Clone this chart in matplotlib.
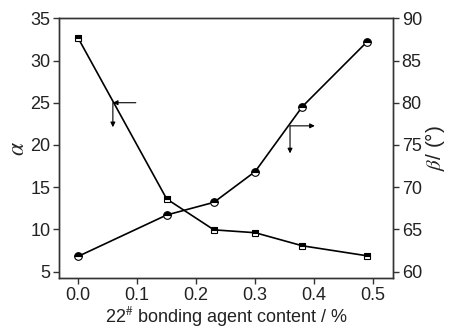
import matplotlib
matplotlib.use("Agg")
import matplotlib.pyplot as plt
from matplotlib import font_manager

x = [0.0, 0.15, 0.23, 0.30, 0.38, 0.49]
alpha = [32.65, 13.6, 9.94, 9.6, 8.05, 6.86]
beta = [61.8, 66.7, 68.2, 71.85, 79.55, 87.25]
xticks = [0.0, 0.1, 0.2, 0.3, 0.4, 0.5]
yticks_left = [5, 10, 15, 20, 25, 30, 35]
yticks_right = [60, 65, 70, 75, 80, 85, 90]

names = {f.name for f in font_manager.fontManager.ttflist}
fam = "Liberation Sans Narrow" if "Liberation Sans Narrow" in names else "Liberation Sans"
plt.rcParams['font.family'] = [fam, 'DejaVu Sans']
plt.rcParams['mathtext.fontset'] = 'stix'

fig = plt.figure(figsize=(4.54, 3.29), dpi=100)
ax = fig.add_axes([58.7/454, 1 - 278.3/329, (393.3-58.7)/454, (278.3-18.3)/329])
ax2 = ax.twinx()

spc = '#333333'
ax.plot(x, alpha, '-', color='black', lw=1.2, marker='s', ms=5,
        fillstyle='top', markerfacecolor='black', markerfacecoloralt='white',
        markeredgecolor='black', markeredgewidth=0.8, zorder=3)
ax2.plot(x, beta, '-', color='black', lw=1.2, marker='o', ms=5.5,
         fillstyle='top', markerfacecolor='black', markerfacecoloralt='white',
         markeredgecolor='black', markeredgewidth=0.8, zorder=3)

ax.set_xlim(-0.033, 0.534)
ax.set_ylim(4.2, 35)
ax2.set_ylim(59.2, 90)
ax.set_xticks(xticks)
ax.set_xticklabels([f"{v:.1f}" for v in xticks])
ax.set_yticks(yticks_left)
ax2.set_yticks(yticks_right)

for a in (ax, ax2):
    for s in a.spines.values():
        s.set_color(spc)
        s.set_linewidth(1.0)
    a.tick_params(direction='out', length=4, width=1.0, color=spc,
                  labelsize=13, colors='#222222', pad=2)

ax.set_xlabel("22$^{\\#}$ bonding agent content / %", fontsize=13, color='#222222', labelpad=1)
ax.set_ylabel(r"$\alpha$", fontsize=17, color='#222222', labelpad=1)
ax2.set_ylabel(r"$\beta$/ (°)", fontsize=15, color='#222222', rotation=90, labelpad=1)

# arrows
kw = dict(arrowstyle='-|>', color='black', lw=0.8, mutation_scale=7, shrinkA=0, shrinkB=0)
ax.annotate('', xy=(0.0588, 25.0), xytext=(0.0977, 25.0), arrowprops=kw)
ax.annotate('', xy=(0.0588, 22.1), xytext=(0.0588, 25.0), arrowprops=kw)
ax2.annotate('', xy=(0.401, 77.26), xytext=(0.359, 77.26), arrowprops=kw)
ax2.annotate('', xy=(0.359, 74.0), xytext=(0.359, 77.26), arrowprops=kw)

fig.savefig("out.png", dpi=100)
